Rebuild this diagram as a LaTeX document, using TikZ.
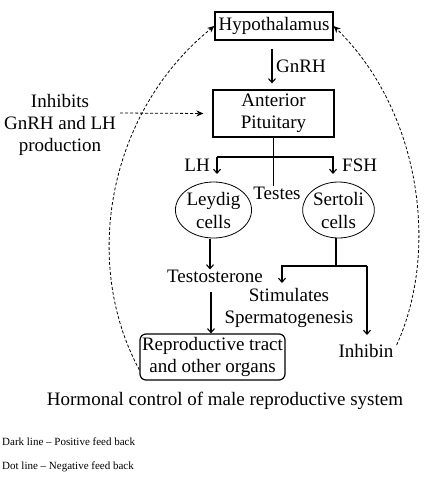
\documentclass[tikz,border=0pt]{standalone}
\usepackage{fontspec}
\setmainfont{Liberation Serif}
\usetikzlibrary{calc,arrows.meta,shapes.geometric}
\tikzset{
  glandbox/.style={
    draw,
    line width=1.2pt,
    inner sep=0pt,
    font=\fontsize{19}{22}\selectfont
  },
  cellnode/.style={
    draw,
    line width=0.8pt,
    shape=ellipse,
    inner sep=0pt,
    minimum width=67pt,
    minimum height=56pt,
    align=center,
    font=\fontsize{19}{23}\selectfont
  },
  plaintext/.style={
    align=center,
    inner sep=0pt,
    font=\fontsize{19}{22}\selectfont
  },
  posline/.style={
    line width=1.1pt,
    -{Straight Barb[length=4pt,width=7pt]}
  },
  negline/.style={
    line width=0.8pt,
    dash pattern=on 3pt off 2pt,
    -{Stealth[length=7pt,width=6pt]}
  }
}

\begin{document}
\begin{tikzpicture}[x=1pt,y=-1pt]
  \useasboundingbox (0,0) rectangle (426,490);
  % glands
  \node[glandbox,minimum width=118pt,minimum height=28pt] (hyp) at (274,26) {Hypothalamus};
  \node[glandbox,minimum width=121pt,minimum height=47pt,align=center] (ant) at (273.5,113.5) {Anterior\\Pituitary};
  \node[plaintext] (inh) at (60,125) {Inhibits\\GnRH and LH\\production};
  \draw[posline] ($(hyp.south)+(-2,8)$) -- ($(ant.north)+(-1.5,-6)$);
  \node[plaintext,anchor=west] (gnrh) at (276,66) {GnRH};
  \draw[negline] ($(inh.east)+(4,-12)$) -- ($(ant.west)+(-9,0)$);
  % testes
  \node[cellnode] (ley) at (213.5,210) {Leydig\\cells};
  \node[cellnode] (ser) at (338.5,210) {Sertoli\\cells};
  \node[plaintext] (tes) at (277,193) {Testes};
  \coordinate (split) at (273,157);
  \draw[line width=1.1pt] (ant.south) -- (ant.south |- tes.north);
  \draw[posline] (217,157) -- (333,157) -- (333,174);
  \draw[posline] (217,157) -- (217,174);
  \node[plaintext,anchor=east] (lh) at (210,165) {LH};
  \node[plaintext,anchor=west] (fsh) at (342,165) {FSH};
  % products
  \node[plaintext] (tst) at (215,276) {Testosterone};
  \node[glandbox,rounded corners=6pt,minimum width=145pt,minimum height=46pt,align=center] (rep) at (212.5,357) {Reproductive tract\\and other organs};
  \node[plaintext] (spm) at (289,308) {Stimulates\\Spermatogenesis};
  \node[plaintext] (inb) at (366,351) {Inhibin};
  \draw[posline] (210,239) -- (210,239 |- tst.north);
  \draw[posline] (211,292) -- (211,292 |- rep.north);
  \draw[line width=1.1pt] (336,238) -- (336,266);
  \draw[posline] (367,266) -- (282,266) -- (282,283);
  \draw[posline] (367,266) -- (367,335);
  % feedback
  \draw[negline] ($(rep.west)+(0,13)$) .. controls (80,260) and (110,110) .. (hyp.west);
  \draw[negline] ($(inb.east)+(3,-6)$) .. controls (440,250) and (420,110) .. (hyp.east);
  % caption and key
  \node[plaintext] (cap) at (225,401) {Hormonal control of male reproductive system};
  \node[anchor=west,inner sep=0pt,font=\fontsize{11}{12}\selectfont] (key1) at (2,442) {Dark line -- Positive feed back};
  \node[anchor=west,inner sep=0pt,font=\fontsize{11}{12}\selectfont] (key2) at (2,467) {Dot line -- Negative feed back};
\end{tikzpicture}
\end{document}
